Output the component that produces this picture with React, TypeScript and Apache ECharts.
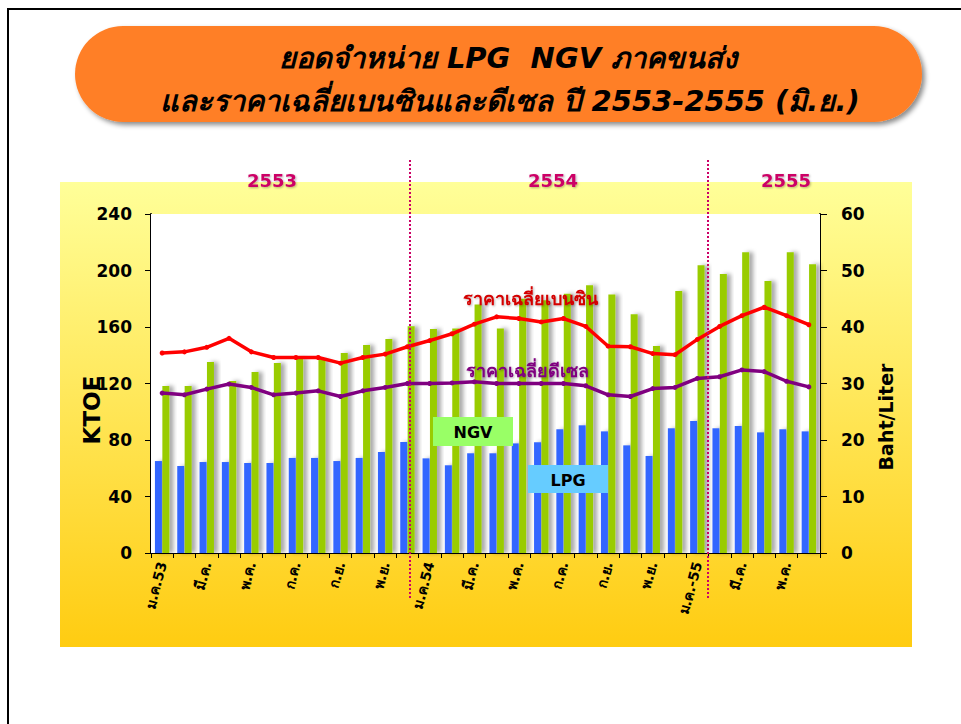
import React, { useEffect, useRef } from "react";
import * as echarts from "echarts";

const categories = [
  "ม.ค.53", "ก.พ.", "มี.ค.", "เม.ย.", "พ.ค.", "มิ.ย.", "ก.ค.", "ส.ค.", "ก.ย.", "ต.ค.", "พ.ย.", "ธ.ค.",
  "ม.ค.54", "ก.พ.", "มี.ค.", "เม.ย.", "พ.ค.", "มิ.ย.", "ก.ค.", "ส.ค.", "ก.ย.", "ต.ค.", "พ.ย.", "ธ.ค.",
  "ม.ค.-55", "ก.พ.", "มี.ค.", "เม.ย.", "พ.ค.", "มิ.ย.",
];

const lpg = [
  65.1, 61.6, 64.4, 64.4, 63.7, 63.7, 67.3, 67.3, 65.1, 67.3, 71.5, 78.6,
  67.0, 62.1, 70.6, 70.6, 77.6, 78.4, 87.6, 90.4, 86.1, 76.2, 68.7, 88.3,
  93.5, 88.3, 89.9, 85.4, 87.6, 86.1,
];

const ngv = [
  118.2, 118.2, 135.2, 121.8, 128.1, 134.5, 138.0, 137.0, 141.6, 147.3, 151.5, 160.5,
  158.5, 159.0, 176.0, 159.0, 180.0, 179.0, 183.6, 189.6, 183.0, 169.0, 146.5, 185.5,
  203.7, 197.5, 212.9, 192.6, 212.9, 204.4,
];

const benzine = [
  35.4, 35.6, 36.4, 38.0, 35.6, 34.6, 34.6, 34.6, 33.6, 34.6, 35.2, 36.5,
  37.6, 38.8, 40.5, 41.8, 41.5, 40.9, 41.5, 40.1, 36.6, 36.5, 35.3, 35.1,
  37.8, 40.1, 42.0, 43.5, 42.0, 40.4,
];

const diesel = [
  28.3, 28.0, 29.0, 29.9, 29.3, 28.0, 28.3, 28.7, 27.7, 28.7, 29.3, 30.0,
  30.0, 30.1, 30.3, 30.0, 30.0, 30.0, 30.0, 29.6, 28.0, 27.7, 29.1, 29.3,
  30.9, 31.2, 32.4, 32.1, 30.4, 29.4,
];

const leftTicks = { min: 0, max: 240, interval: 40 };
const rightTicks = { min: 0, max: 60, interval: 10 };
const years = ["2553", "2554", "2555"];

const FONT = "Tahoma, 'DejaVu Sans', 'Noto Sans', sans-serif";

export default function App() {
  const ref = useRef<HTMLDivElement>(null);

  useEffect(() => {
    if (!ref.current) return;
    const chart = echarts.init(ref.current, null, { renderer: "svg" });
    const barShadow = {
      shadowColor: "rgba(0,0,0,0.35)",
      shadowBlur: 4,
      shadowOffsetX: 4,
      shadowOffsetY: 0,
    };
    const textShadow = {
      textShadowColor: "rgba(0,0,0,0.3)",
      textShadowBlur: 2,
      textShadowOffsetX: 1,
      textShadowOffsetY: 1,
    };
    const option: any = {
      animation: false,
      backgroundColor: "#ffffff",
      grid: {
        left: 151,
        right: 141,
        top: 214,
        bottom: 171,
        show: true,
        backgroundColor: "#ffffff",
        borderWidth: 0,
        z: 1,
      },
      xAxis: {
        type: "category",
        data: categories,
        boundaryGap: true,
        axisLine: { lineStyle: { color: "#000", width: 2 } },
        axisTick: { show: true, interval: 0, length: 5, lineStyle: { color: "#000" } },
        axisLabel: {
          interval: 1,
          rotate: 75,
          margin: 9,
          color: "#000",
          fontWeight: "bold",
          fontSize: 14,
          fontFamily: FONT,
        },
      },
      yAxis: [
        {
          type: "value",
          ...leftTicks,
          axisLine: { show: true, lineStyle: { color: "#000", width: 2 } },
          axisTick: { show: true, length: 6, lineStyle: { color: "#000" } },
          splitLine: { show: false },
          axisLabel: {
            margin: 19,
            color: "#000",
            fontWeight: "bold",
            fontSize: 17,
            fontFamily: FONT,
          },
        },
        {
          type: "value",
          ...rightTicks,
          position: "right",
          axisLine: { show: true, lineStyle: { color: "#000", width: 2 } },
          axisTick: { show: true, length: 7, lineStyle: { color: "#000" } },
          splitLine: { show: false },
          axisLabel: {
            margin: 21,
            color: "#000",
            fontWeight: "bold",
            fontSize: 17,
            fontFamily: FONT,
          },
        },
      ],
      series: [
        {
          name: "LPG",
          type: "bar",
          data: lpg,
          barWidth: 7,
          barGap: "6%",
          itemStyle: { color: "#3366FF", ...barShadow },
          z: 2,
        },
        {
          name: "NGV",
          type: "bar",
          data: ngv,
          barWidth: 7,
          barGap: "6%",
          itemStyle: { color: "#99CC00", ...barShadow },
          z: 2,
        },
        {
          name: "ราคาเฉลี่ยเบนซิน",
          type: "line",
          yAxisIndex: 1,
          data: benzine,
          symbol: "circle",
          symbolSize: 5,
          lineStyle: { color: "#FF0000", width: 3.5 },
          itemStyle: { color: "#FF0000" },
          z: 5,
        },
        {
          name: "ราคาเฉลี่ยดีเซล",
          type: "line",
          yAxisIndex: 1,
          data: diesel,
          symbol: "circle",
          symbolSize: 5,
          lineStyle: { color: "#800080", width: 3.5 },
          itemStyle: { color: "#800080" },
          z: 5,
        },
      ],
      graphic: [
        {
          type: "rect",
          z: -10,
          shape: { x: 60, y: 182, width: 852, height: 465 },
          style: {
            fill: new echarts.graphic.LinearGradient(0, 0, 0, 1, [
              { offset: 0, color: "#FFFF99" },
              { offset: 1, color: "#FFCC11" },
            ]),
          },
        },
        {
          type: "rect",
          z: 50,
          shape: { x: 8, y: 9, width: 1200, height: 1200 },
          style: { fill: "none", stroke: "#000", lineWidth: 2 },
        },
        {
          type: "rect",
          z: 50,
          shape: { x: 75, y: 26, width: 847, height: 96, r: 48 },
          style: {
            fill: "#FF7F27",
            shadowBlur: 5,
            shadowColor: "rgba(0,0,0,0.45)",
            shadowOffsetX: 3,
            shadowOffsetY: 3,
          },
        },
        {
          type: "text",
          z: 51,
          x: 508,
          y: 58,
          style: {
            text: "ยอดจำหน่าย LPG  NGV ภาคขนส่ง",
            fill: "#000",
            font: `italic bold 29px ${FONT}`,
            textAlign: "center",
            textVerticalAlign: "middle",
          },
        },
        {
          type: "text",
          z: 51,
          x: 510,
          y: 101,
          style: {
            text: "และราคาเฉลี่ยเบนซินและดีเซล ปี 2553-2555 (มิ.ย.)",
            fill: "#000",
            font: `italic bold 29px ${FONT}`,
            textAlign: "center",
            textVerticalAlign: "middle",
          },
        },
        ...years.map((t, i) => ({
          type: "text",
          z: 51,
          x: [272, 553, 786][i],
          y: 180,
          style: {
            text: t,
            fill: "#CC0066",
            font: `bold 18px ${FONT}`,
            textAlign: "center",
            textVerticalAlign: "middle",
            ...textShadow,
          },
        })),
        ...[410, 708].map((x) => ({
          type: "line",
          z: 40,
          shape: { x1: x, y1: 160, x2: x, y2: 598 },
          style: { stroke: "#CC0066", lineWidth: 2, lineDash: [2, 2] },
        })),
        {
          type: "text",
          z: 51,
          x: 92,
          y: 410,
          rotation: Math.PI / 2,
          style: {
            text: "KTOE",
            fill: "#000",
            font: `bold 23px ${FONT}`,
            textAlign: "center",
            textVerticalAlign: "middle",
          },
        },
        {
          type: "text",
          z: 51,
          x: 886,
          y: 417,
          rotation: Math.PI / 2,
          style: {
            text: "Baht/Liter",
            fill: "#000",
            font: `bold 19px ${FONT}`,
            textAlign: "center",
            textVerticalAlign: "middle",
          },
        },
        {
          type: "rect",
          z: 45,
          shape: { x: 433, y: 417, width: 80, height: 29 },
          style: { fill: "#99FF66" },
        },
        {
          type: "text",
          z: 46,
          x: 473,
          y: 432,
          style: {
            text: "NGV",
            fill: "#000",
            font: `bold 16px ${FONT}`,
            textAlign: "center",
            textVerticalAlign: "middle",
          },
        },
        {
          type: "rect",
          z: 45,
          shape: { x: 528, y: 465, width: 80, height: 28 },
          style: { fill: "#66CCFF" },
        },
        {
          type: "text",
          z: 46,
          x: 568,
          y: 480,
          style: {
            text: "LPG",
            fill: "#000",
            font: `bold 16px ${FONT}`,
            textAlign: "center",
            textVerticalAlign: "middle",
          },
        },
        {
          type: "text",
          z: 46,
          x: 530,
          y: 298,
          style: {
            text: "ราคาเฉลี่ยเบนซิน",
            fill: "#D40000",
            font: `bold 18px ${FONT}`,
            textAlign: "center",
            textVerticalAlign: "middle",
            ...textShadow,
          },
        },
        {
          type: "text",
          z: 46,
          x: 527,
          y: 370,
          style: {
            text: "ราคาเฉลี่ยดีเซล",
            fill: "#800080",
            font: `bold 18px ${FONT}`,
            textAlign: "center",
            textVerticalAlign: "middle",
            ...textShadow,
          },
        },
      ],
    };
    chart.setOption(option);
    return () => chart.dispose();
  }, []);

  return <div ref={ref} style={{ width: 961, height: 724, position: "absolute", left: 0, top: 0 }} />;
}
